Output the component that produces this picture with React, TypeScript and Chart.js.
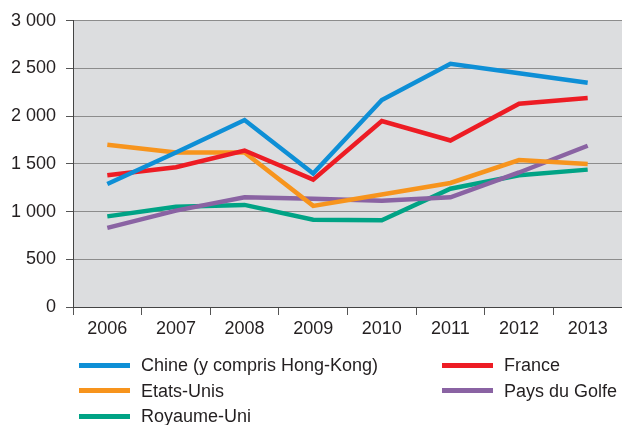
import React, { useEffect, useRef } from "react";
import { Chart, registerables } from "chart.js";

Chart.register(...registerables);

const years = ["2006", "2007", "2008", "2009", "2010", "2011", "2012", "2013"];
const chine = [1290, 1620, 1960, 1400, 2170, 2550, 2450, 2350];
const france = [1380, 1465, 1640, 1335, 1950, 1745, 2130, 2190];
const etatsUnis = [1700, 1620, 1620, 1060, 1180, 1300, 1540, 1500];
const paysDuGolfe = [830, 1010, 1150, 1135, 1115, 1150, 1410, 1690];
const royaumeUni = [950, 1050, 1070, 915, 910, 1240, 1380, 1440];

const seriesNames = ["Chine (y compris Hong-Kong)", "France", "Etats-Unis", "Pays du Golfe", "Royaume-Uni"];
const seriesValues = [chine, france, etatsUnis, paysDuGolfe, royaumeUni];
const seriesColors = ["#0e8fd6", "#ed1c24", "#f7941d", "#8a63a3", "#00a385"];

const FONT = "'Liberation Sans', Arial, sans-serif";
const TEXT = "#231f20";

const plotBg = {
  id: "plotBg",
  beforeDraw(chart: any) {
    const { ctx, chartArea } = chart;
    ctx.save();
    ctx.fillStyle = "#dcdddf";
    ctx.fillRect(chartArea.left, chartArea.top, chartArea.right - chartArea.left, chartArea.bottom - chartArea.top);
    ctx.restore();
  },
};

export default function App() {
  const ref = useRef<HTMLCanvasElement | null>(null);

  useEffect(() => {
    document.body.style.margin = "0";
    const chart = new Chart(ref.current as HTMLCanvasElement, {
      type: "line",
      data: {
        labels: years,
        datasets: seriesNames.map((n, i) => ({
          label: n,
          data: seriesValues[i],
          borderColor: seriesColors[i],
          backgroundColor: seriesColors[i],
          borderWidth: 4.5,
          pointRadius: 0,
          tension: 0,
          borderJoinStyle: "miter" as const,
          borderCapStyle: "butt" as const,
        })),
      },
      options: {
        animation: false,
        responsive: false,
        maintainAspectRatio: false,
        layout: { padding: { top: 19, right: -3, left: 0, bottom: 0 } },
        plugins: { legend: { display: false }, tooltip: { enabled: false } },
        scales: {
          x: {
            offset: true,
            grid: { offset: true, drawOnChartArea: false, tickLength: 8, color: "#555", tickColor: "#555" },
            border: { display: true, color: "#444", width: 1 },
            ticks: { font: { family: FONT, size: 18 }, color: TEXT, padding: 3, maxRotation: 0 },
            afterFit(scale: any) {
              scale.height = 118;
            },
          },
          y: {
            min: 0,
            max: 3000,
            ticks: {
              stepSize: 500,
              font: { family: FONT, size: 18 },
              color: TEXT,
              padding: 10,
              callback: (v: any) => {
                const n = Number(v);
                return n >= 1000 ? Math.floor(n / 1000) + " " + String(n % 1000).padStart(3, "0") : String(n);
              },
            },
            grid: { color: "#8c8c8c", tickLength: 7, tickColor: "#555", lineWidth: 1 },
            border: { display: true, color: "#444", width: 1 },
            afterFit(scale: any) {
              scale.width = 73;
            },
          },
        },
      },
      plugins: [plotBg],
    });
    return () => chart.destroy();
  }, []);

  return (
    <div style={{ position: "relative", width: 622, height: 425, overflow: "hidden", background: "#fff" }}>
      <canvas ref={ref} width={622} height={425} style={{ position: "absolute", left: 0, top: 0 }} />
      {seriesNames.map((n, i) => {
        const col = i % 2;
        const row = Math.floor(i / 2);
        const left = col === 0 ? 79 : 442;
        const cy = 365 + row * 25.5;
        return (
          <div key={n} style={{ position: "absolute", left, top: cy - 12, height: 24, display: "flex", alignItems: "center", whiteSpace: "nowrap" }}>
            <div style={{ width: 51, height: 5, background: seriesColors[i], marginRight: 11 }} />
            <span style={{ font: `18px ${FONT}`, color: TEXT, lineHeight: "24px" }}>{n}</span>
          </div>
        );
      })}
    </div>
  );
}
